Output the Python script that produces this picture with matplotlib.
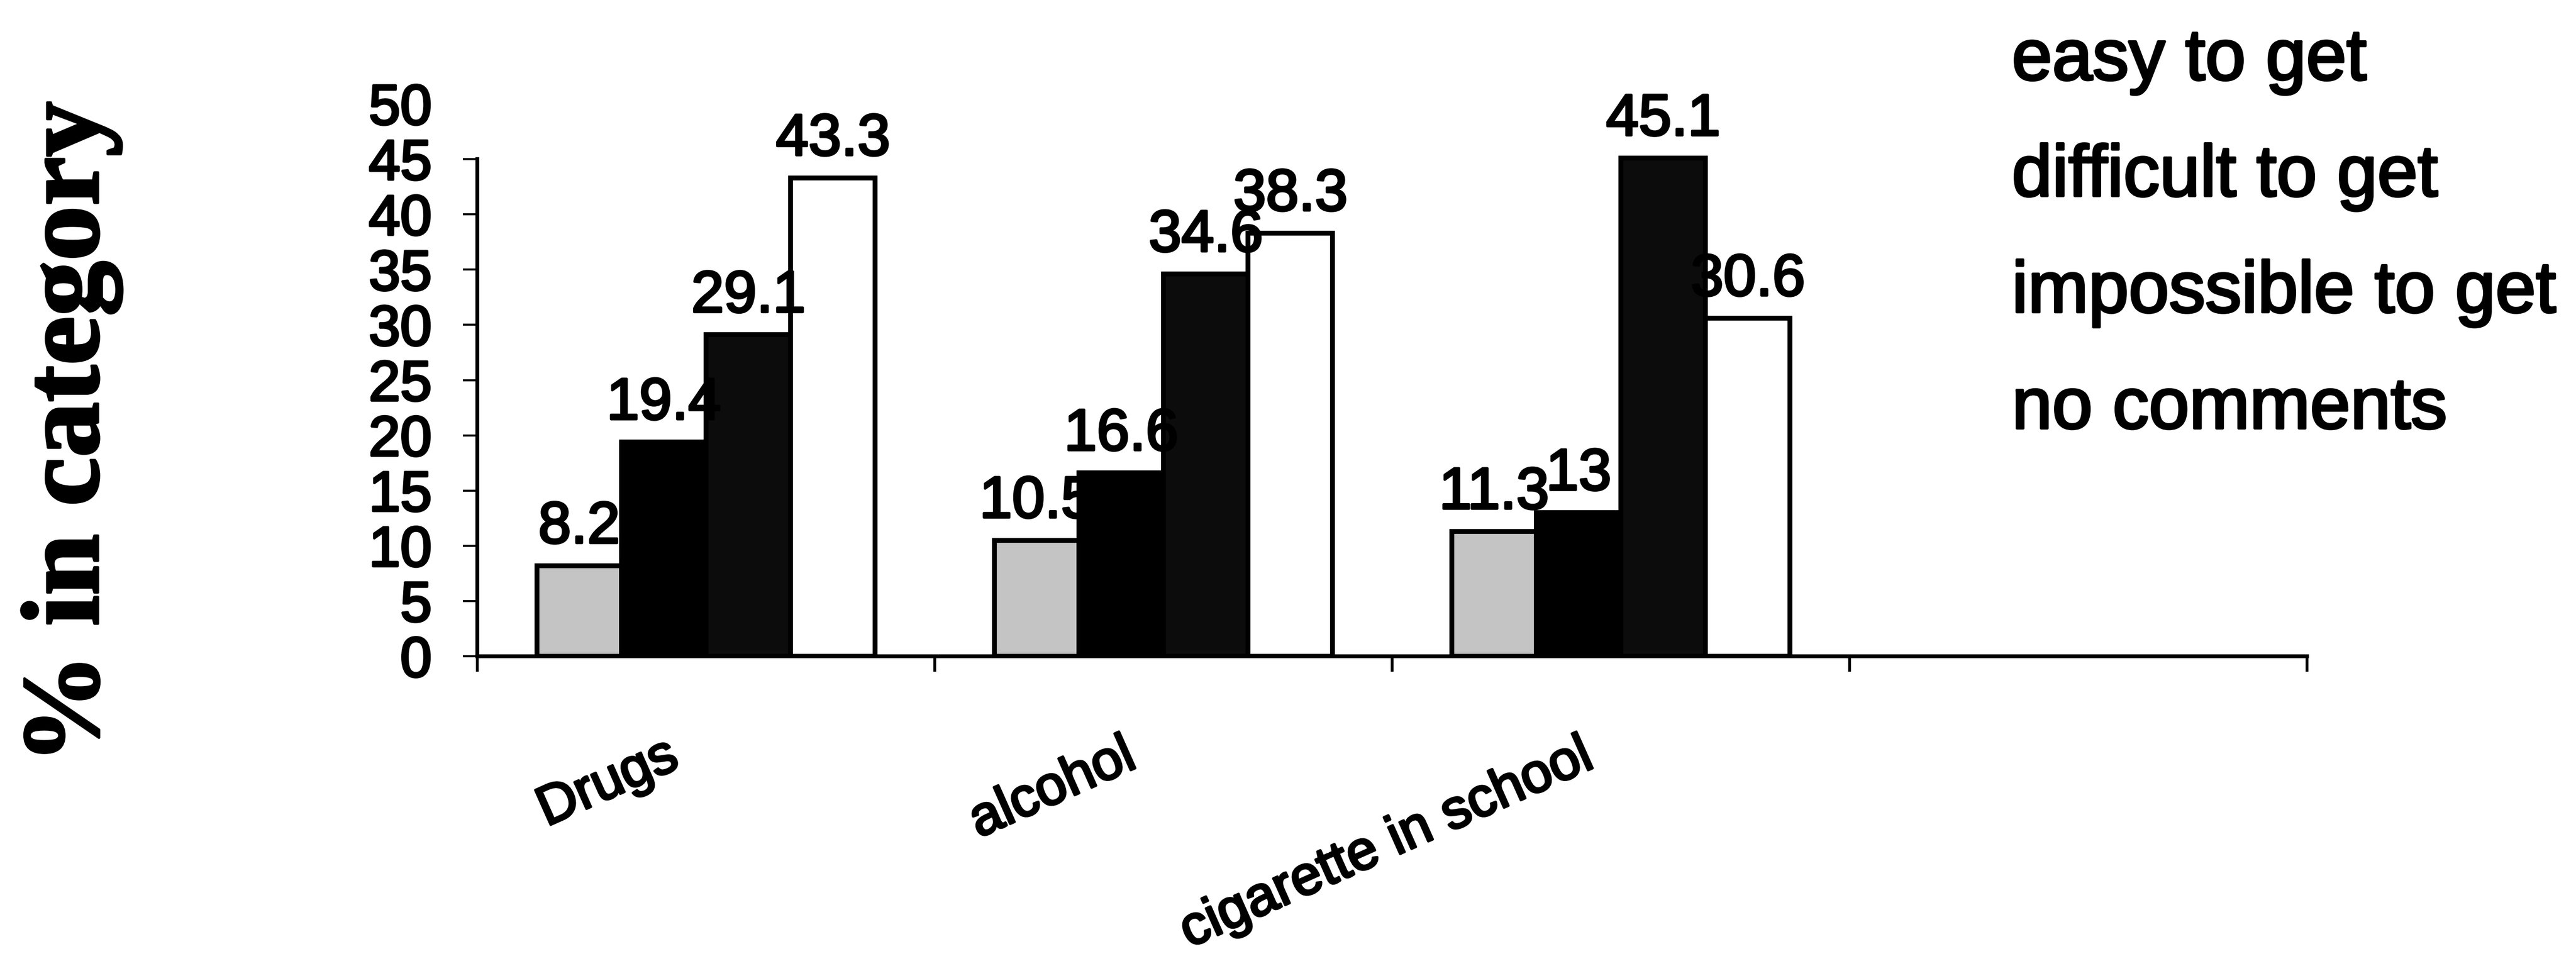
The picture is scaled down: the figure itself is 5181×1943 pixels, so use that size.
import matplotlib
matplotlib.use("Agg")
import matplotlib.pyplot as plt
import matplotlib.transforms as mtransforms
import matplotlib.patheffects as pe
from matplotlib.text import Text
import numpy as np

# Survey data: share of respondents per availability answer
categories = ["Drugs", "alcohol", "cigarette in school"]
series_names = ["easy to get", "difficult to get", "impossible to get", "no comments"]
easy_to_get = [8.2, 10.5, 11.3]
difficult_to_get = [19.4, 16.6, 13]
impossible_to_get = [29.1, 34.6, 45.1]
no_comments = [43.3, 38.3, 30.6]
y_ticks = [0, 5, 10, 15, 20, 25, 30, 35, 40, 45, 50]

series_values = [easy_to_get, difficult_to_get, impossible_to_get, no_comments]
fill_colors = ["#c4c4c4", "#000000", "#0c0c0c", "#ffffff"]

plt.rcParams["font.family"] = ["Liberation Sans", "DejaVu Sans"]

fig = plt.figure(figsize=(51.81, 19.43), dpi=100)
ax = fig.add_axes([0.1853, 0.3206, 0.7103, 0.5718])

x = np.arange(1, len(categories) + 1)
bar_w = 0.185
containers = []
for i, (vals, fc, name) in enumerate(zip(series_values, fill_colors, series_names)):
    pos = x + (i - 1.5) * bar_w
    bc = ax.bar(pos, vals, bar_w, color=fc, edgecolor="black", linewidth=7,
                label=name, zorder=3)
    containers.append(bc)
    for xp, v in zip(pos, vals):
        ax.annotate(f"{v:g}", (xp, v), xytext=(0, 33), textcoords="offset points",
                    ha="center", va="baseline", fontsize=85, zorder=4)

# Axes: four category slots, the last one left empty
ax.set_xlim(0.5, 4.5)
ax.set_ylim(0, 50)
for side in ("top", "right"):
    ax.spines[side].set_visible(False)
ax.spines["left"].set_linewidth(5.5)
ax.spines["bottom"].set_linewidth(5.5)
ax.spines["left"].set_bounds(0, 45)

ax.set_yticks(y_ticks)
ax.set_yticklabels([str(t) for t in y_ticks])
ax.tick_params(axis="y", direction="out", length=21, width=3, pad=45, labelsize=82)
ax.yaxis.get_major_ticks()[-1].tick1line.set_visible(False)

ax.set_xticks(np.arange(0.5, 4.6, 1.0))
ax.set_xticklabels([])
ax.tick_params(axis="x", direction="out", length=22, width=4)

# Slanted category names hanging under each group
for xc, name in zip(x, categories):
    tr = ax.get_xaxis_transform() + mtransforms.ScaledTranslation(
        -0.5, -2.22, fig.dpi_scale_trans)
    ax.text(xc, 0, name, transform=tr, rotation=24, rotation_mode="anchor",
            ha="right", va="baseline", fontsize=80)

fig.text(0.0278, 0.552, "% in category", rotation=90, ha="center", va="center",
         fontsize=160, fontweight="bold", family=["Liberation Serif", "DejaVu Serif"])

leg = ax.legend(handles=containers, labels=series_names, loc="upper left",
                bbox_to_anchor=(0.781, 0.972), bbox_transform=fig.transFigure,
                frameon=False, fontsize=105, handlelength=0, handletextpad=0,
                borderpad=0, borderaxespad=0, labelspacing=0.67)
for h in leg.legend_handles:
    h.set_visible(False)

# Heavier strokes on all lettering
for t in fig.findobj(Text):
    t.set_path_effects([pe.withStroke(linewidth=3.5, foreground="black")])

fig.savefig("out.png", dpi=100, facecolor="white")
